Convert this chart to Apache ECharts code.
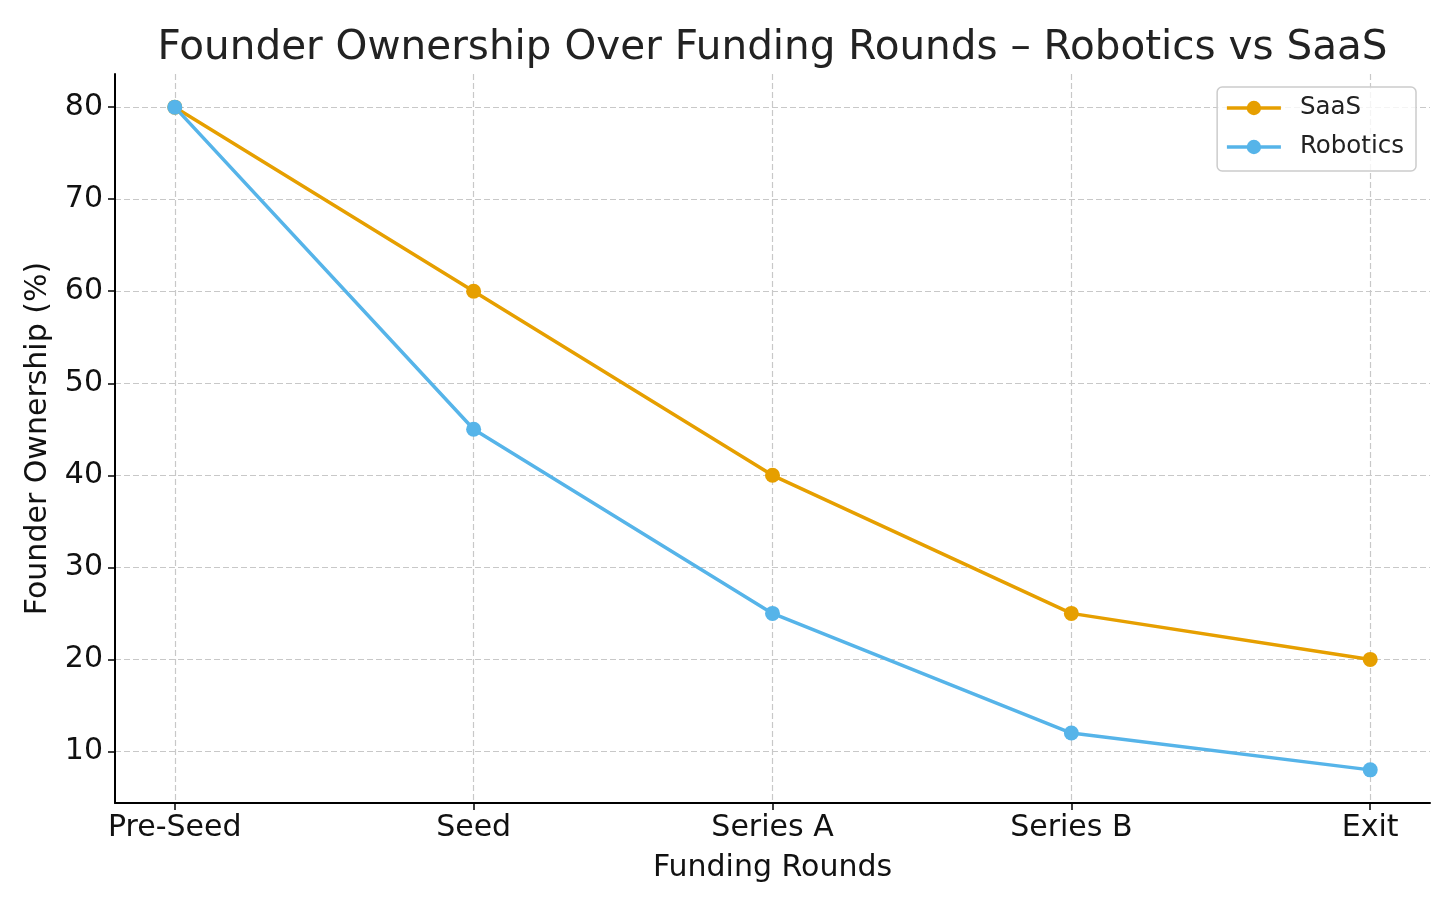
<!DOCTYPE html>
<html>
<head>
<meta charset="utf-8">
<script src="https://cdn.jsdelivr.net/npm/echarts@6/dist/echarts.min.js"></script>
<style>html,body{margin:0;padding:0;background:#fff}#chart{width:1456px;height:910px}</style>
</head>
<body>
<div id="chart"></div>
<script>
const rounds = ['Pre-Seed', 'Seed', 'Series A', 'Series B', 'Exit'];
const saas = [80, 60, 40, 25, 20];
const robotics = [80, 45, 25, 12, 8];
const yTicks = [10, 20, 30, 40, 50, 60, 70, 80];
const xTicks = [0, 1, 2, 3, 4];

const FONT = 'DejaVu Sans';
const chart = echarts.init(document.getElementById('chart'));
const dashed = { show: true, lineStyle: { color: '#c8c8c8', width: 1.2, type: [6, 3] } };

chart.setOption({
  backgroundColor: '#ffffff',
  animation: false,
  title: {
    text: 'Founder Ownership Over Funding Rounds \u2013 Robotics vs SaaS',
    left: 772.5, top: 28, textAlign: 'center', padding: 0,
    textStyle: { fontFamily: FONT, fontSize: 40.5, fontWeight: 'normal', color: '#222' }
  },
  legend: {
    data: ['SaaS', 'Robotics'],
    orient: 'vertical', right: 40, top: 87,
    padding: [8, 12, 11, 8],
    itemWidth: 54, itemHeight: 18, itemGap: 13,
    backgroundColor: 'rgba(255,255,255,0.8)',
    borderColor: '#cccccc', borderWidth: 1.5, borderRadius: 5,
    lineStyle: { width: 3.5 },
    textStyle: { fontFamily: FONT, fontSize: 24.5, color: '#222', lineHeight: 26, padding: [0, 0, 0, 14] }
  },
  grid: { left: 115, right: 26, top: 74, bottom: 107 },
  xAxis: {
    type: 'value', min: -0.2, max: 4.2,
    name: 'Funding Rounds', nameLocation: 'middle', nameGap: 50,
    nameTextStyle: { fontFamily: FONT, fontSize: 30, color: '#111' },
    axisLine: { show: true, onZero: false, lineStyle: { color: '#000', width: 2 } },
    axisTick: { show: true, length: 7, customValues: xTicks, lineStyle: { color: '#000', width: 1.5 } },
    axisLabel: { customValues: xTicks, margin: 10, fontFamily: FONT, fontSize: 30, color: '#111',
      formatter: v => rounds[Math.round(v)] },
    splitLine: dashed
  },
  yAxis: {
    type: 'value', min: 4.4, max: 83.6,
    name: 'Founder Ownership (%)', nameLocation: 'middle', nameGap: 62,
    nameTextStyle: { fontFamily: FONT, fontSize: 30, color: '#111' },
    axisLine: { show: true, onZero: false, lineStyle: { color: '#000', width: 2 } },
    axisTick: { show: true, length: 7, customValues: yTicks, lineStyle: { color: '#000', width: 1.5 } },
    axisLabel: { customValues: yTicks, margin: 12, fontFamily: FONT, fontSize: 30, color: '#111' },
    splitLine: dashed
  },
  series: [
    {
      name: 'SaaS', type: 'line',
      data: saas.map((v, i) => [i, v]),
      symbol: 'circle', symbolSize: 15,
      lineStyle: { color: '#E69F00', width: 3.5 },
      itemStyle: { color: '#E69F00' }
    },
    {
      name: 'Robotics', type: 'line',
      data: robotics.map((v, i) => [i, v]),
      symbol: 'circle', symbolSize: 15,
      lineStyle: { color: '#56B4E9', width: 3.5 },
      itemStyle: { color: '#56B4E9' }
    }
  ]
});
</script>
</body>
</html>
